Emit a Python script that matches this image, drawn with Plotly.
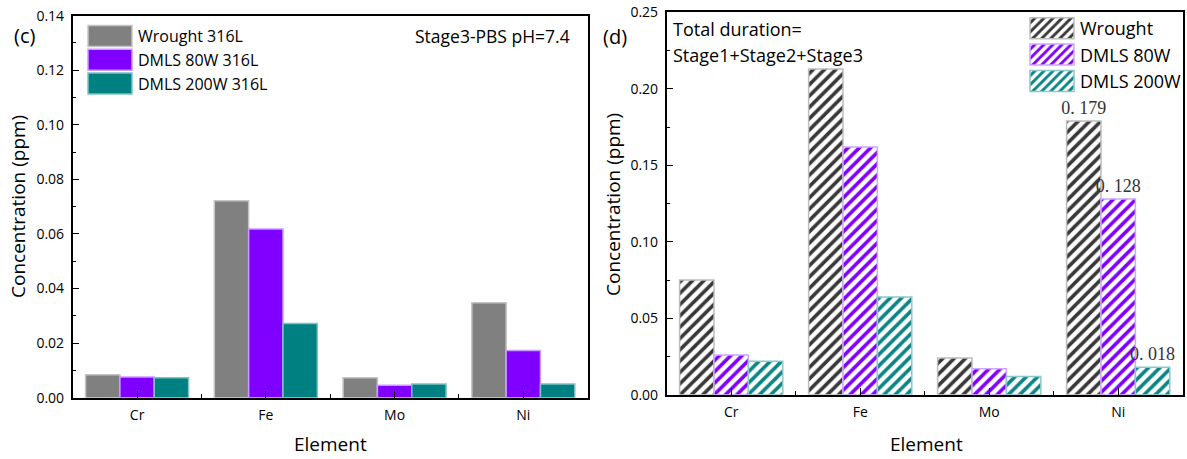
import plotly.graph_objects as go

elements = ["Cr", "Fe", "Mo", "Ni"]

# Stage 3 release in PBS (pH 7.4), ppm
stage3_wrought = [0.0084, 0.0722, 0.0073, 0.0348]
stage3_dmls80 = [0.0076, 0.0618, 0.0046, 0.0173]
stage3_dmls200 = [0.0073, 0.0272, 0.0050, 0.0050]

# Cumulative release, Stage1 + Stage2 + Stage3, ppm
total_wrought = [0.075, 0.213, 0.024, 0.179]
total_dmls80 = [0.026, 0.162, 0.017, 0.128]
total_dmls200 = [0.022, 0.064, 0.012, 0.018]

# elements whose cumulative value is printed above the bars
labelled = ["Ni"]

stage3_names = ["Wrought 316L", "DMLS 80W 316L", "DMLS 200W 316L"]
total_names = ["Wrought", "DMLS 80W", "DMLS 200W"]

W, H = 1187, 459
SANS = "Open Sans"
idx = list(range(len(elements)))


def px_x(v):
    return v / W


def px_y(v):
    return (H - v) / H


def value_text(vals):
    return [f"{v:.3f}".replace(".", ". ") if el in labelled else ""
            for el, v in zip(elements, vals)]


fig = go.Figure()

# left panel: solid bars
solid = [
    (stage3_wrought, "#808080", "#c4c4c4"),
    (stage3_dmls80, "#8000ff", "#c99cff"),
    (stage3_dmls200, "#008080", "#80c2c2"),
]
for (vals, col, edge), name in zip(solid, stage3_names):
    fig.add_trace(go.Bar(
        x=idx, y=vals, name=name, xaxis="x", yaxis="y", legend="legend",
        marker=dict(color=col, line=dict(color=edge, width=1.5)),
    ))

# right panel: hatched bars
hatched = [
    (total_wrought, "#383838", "#bdbdbd"),
    (total_dmls80, "#8000ff", "#cfa6ff"),
    (total_dmls200, "#0a8585", "#8cc8c8"),
]
for (vals, col, edge), name in zip(hatched, total_names):
    fig.add_trace(go.Bar(
        x=idx, y=vals, name=name, xaxis="x2", yaxis="y2", legend="legend2",
        marker=dict(
            color="white",
            line=dict(color=edge, width=1.5),
            pattern=dict(shape="/", fgcolor=col, bgcolor="white",
                         fgopacity=1, size=8, solidity=0.45,
                         fillmode="replace"),
        ),
        text=value_text(vals), textposition="outside", constraintext="none",
        cliponaxis=False,
        textfont=dict(family="Liberation Serif", size=18, color="#333333"),
    ))

frame = dict(showline=True, mirror=True, linecolor="black", linewidth=1.6,
             showgrid=False, zeroline=False)
xcommon = dict(range=[-0.5, 3.5], tickmode="array", tickvals=idx,
               ticktext=elements, ticks="inside", ticklen=7, tickwidth=1.2,
               tickcolor="black", ticklabelstandoff=4,
               minor=dict(tickmode="linear", tick0=0.5, dtick=1,
                          ticks="inside", ticklen=4, tickwidth=1.2,
                          tickcolor="black"),
               tickfont=dict(family=SANS, size=14, color="black"), **frame)
ycommon = dict(ticks="inside", ticklen=6, tickwidth=1.2, tickcolor="black",
               tickformat=".2f", ticklabelstandoff=4,
               tickfont=dict(family=SANS, size=14, color="black"), **frame)

fig.update_layout(
    width=W, height=H,
    margin=dict(l=0, r=0, t=0, b=0, autoexpand=False),
    paper_bgcolor="white", plot_bgcolor="white",
    barmode="group", bargap=0.2, bargroupgap=0,
    xaxis=dict(domain=[px_x(72.7), px_x(587.7)], anchor="y", **xcommon),
    yaxis=dict(domain=[px_y(397.7), px_y(15.7)], anchor="x",
               range=[0, 0.14], dtick=0.02,
               minor=dict(dtick=0.01, ticks="inside", ticklen=3,
                          tickwidth=1.2, tickcolor="black"),
               **ycommon),
    xaxis2=dict(domain=[px_x(666.7), px_x(1182.7)], anchor="y2", **xcommon),
    yaxis2=dict(domain=[px_y(394.8), px_y(12.3)], anchor="x2",
                range=[0, 0.25], dtick=0.05,
                minor=dict(dtick=0.025, ticks="inside", ticklen=3,
                           tickwidth=1.2, tickcolor="black"),
                **ycommon),
    legend=dict(x=px_x(82), y=px_y(19), xanchor="left", yanchor="top",
                bgcolor="rgba(0,0,0,0)", itemwidth=46,
                font=dict(family=SANS, size=16, color="black"),
                itemclick=False, itemdoubleclick=False),
    legend2=dict(x=px_x(1024), y=px_y(10), xanchor="left", yanchor="top",
                 bgcolor="rgba(0,0,0,0)", itemwidth=46,
                 font=dict(family=SANS, size=18, color="black"),
                 itemclick=False, itemdoubleclick=False),
    showlegend=True,
)

notes = [
    ("(c)", 12, 35, "left", "middle", 20, 0),
    ("Stage3-PBS pH=7.4", 413, 36, "left", "middle", 17.5, 0),
    ("(d)", 601, 37, "left", "middle", 20, 0),
    ("Total duration=", 671, 29, "left", "middle", 18, 0),
    ("Stage1+Stage2+Stage3", 671, 55, "left", "middle", 18, 0),
    ("Concentration (ppm)", 18, 207, "center", "middle", 19, -90),
    ("Concentration (ppm)", 613, 204, "center", "middle", 19, -90),
    ("Element", 330, 459, "center", "bottom", 19, 0),
    ("Element", 926, 459, "center", "bottom", 19, 0),
]
for text, x, y, xa, ya, size, angle in notes:
    fig.add_annotation(text=text, x=px_x(x), y=px_y(y), xref="paper",
                       yref="paper", xanchor=xa, yanchor=ya,
                       showarrow=False, textangle=angle,
                       font=dict(family=SANS, size=size, color="black"))

# widen the legend swatches into the wide rectangles used in the key
widen = """
function widenSwatches(){
    document.querySelectorAll('g.legendpoints path').forEach(function(p){
        var d = p.getAttribute('d') || '';
        if (d.indexOf('M6,6H-6V-6H6Z') === 0 || p.classList.contains('wide')) {
            p.setAttribute('d', 'M22,10.5H-22V-10.5H22Z');
            p.classList.add('wide');
        }
    });
}
widenSwatches();
setTimeout(widenSwatches, 50);
setTimeout(widenSwatches, 300);
"""

fig.write_html("out.html", post_script=widen)
